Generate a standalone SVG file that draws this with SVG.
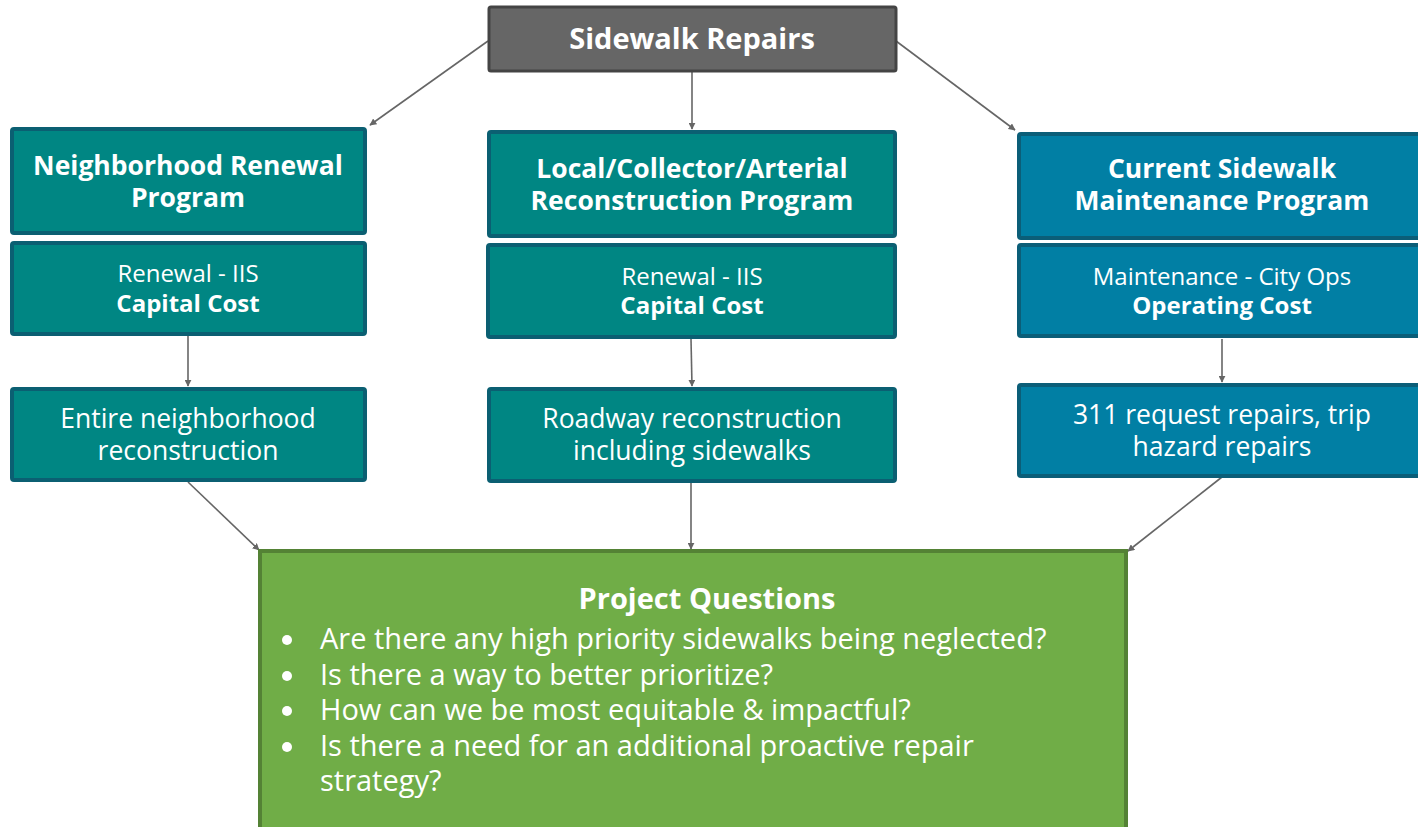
<svg xmlns="http://www.w3.org/2000/svg" width="1418" height="827" viewBox="0 0 1418 827">
<style>
text{font-family:"Open Sans","Noto Sans","Liberation Sans",sans-serif;fill:#fff;text-anchor:middle}
.b{font-weight:bold}
.t{font-size:26.5px}
.s{font-size:24px}
.m{font-size:26.5px}
.teal{fill:#008683;stroke:#0b5f72;stroke-width:4}
.blue{fill:#017fa4;stroke:#0b5e78;stroke-width:4}
.q{text-anchor:start;font-size:29px}
.c{stroke:#666;stroke-width:1.6;fill:none;marker-end:url(#a)}
</style>
<defs>
<marker id="a" viewBox="0 0 10 10" refX="9" refY="5" markerWidth="7" markerHeight="7" orient="auto" markerUnits="userSpaceOnUse"><path d="M0,0L10,5L0,10z" fill="#666"/></marker>
</defs>
<rect width="1418" height="827" fill="#fff"/>
<g id="connectors">
<line class="c" x1="488" y1="41" x2="370" y2="125"/>
<line class="c" x1="692" y1="71" x2="692" y2="129"/>
<line class="c" x1="896" y1="41" x2="1015" y2="130"/>
<line class="c" x1="188" y1="336" x2="188" y2="386"/>
<line class="c" x1="691" y1="339" x2="692" y2="386"/>
<line class="c" x1="1222" y1="339" x2="1222" y2="382"/>
<line class="c" x1="188" y1="482" x2="259" y2="550"/>
<line class="c" x1="691" y1="483" x2="691" y2="549"/>
<line class="c" x1="1222" y1="477" x2="1128" y2="551"/>
</g>
<g id="top">
<rect x="489" y="7" width="407" height="64" rx="2" fill="#666" stroke="#444" stroke-width="3"/>
<text class="b" x="692" y="49" font-size="29">Sidewalk Repairs</text>
</g>
<g id="nrp">
<rect class="teal" x="12" y="129" width="353" height="104" rx="2"/>
<text class="b t" x="188" y="175">Neighborhood Renewal</text>
<text class="b t" x="188" y="207">Program</text>
</g>
<g id="nrp-cost">
<rect class="teal" x="12" y="243" width="353" height="91" rx="2"/>
<text class="s" x="188" y="282">Renewal - IIS</text>
<text class="s b" x="188" y="312">Capital Cost</text>
</g>
<g id="nrp-desc">
<rect class="teal" x="12" y="389" width="353" height="91" rx="2"/>
<text class="m" x="188" y="428">Entire neighborhood</text>
<text class="m" x="188" y="460">reconstruction</text>
</g>
<g id="lca">
<rect class="teal" x="489" y="132" width="406" height="104" rx="2"/>
<text class="b t" x="692" y="178">Local/Collector/Arterial</text>
<text class="b t" x="692" y="210">Reconstruction Program</text>
</g>
<g id="lca-cost">
<rect class="teal" x="488" y="245" width="407" height="92" rx="2"/>
<text class="s" x="692" y="285">Renewal - IIS</text>
<text class="s b" x="692" y="314">Capital Cost</text>
</g>
<g id="lca-desc">
<rect class="teal" x="489" y="389" width="406" height="92" rx="2"/>
<text class="m" x="692" y="428">Roadway reconstruction</text>
<text class="m" x="692" y="460">including sidewalks</text>
</g>
<g id="csm">
<rect class="blue" x="1019" y="134" width="410" height="104" rx="2"/>
<text class="b t" x="1222" y="178">Current Sidewalk</text>
<text class="b t" x="1222" y="210">Maintenance Program</text>
</g>
<g id="csm-cost">
<rect class="blue" x="1019" y="245" width="410" height="91" rx="2"/>
<text class="s" x="1222" y="285">Maintenance - City Ops</text>
<text class="s b" x="1222" y="314">Operating Cost</text>
</g>
<g id="csm-desc">
<rect class="blue" x="1019" y="385" width="410" height="91" rx="2"/>
<text class="m" x="1222" y="424">311 request repairs, trip</text>
<text class="m" x="1222" y="456">hazard repairs</text>
</g>
<g id="questions">
<rect x="260" y="551" width="866" height="290" fill="#70ad47" stroke="#548235" stroke-width="4"/>
<text class="b" x="707" y="609" font-size="29">Project Questions</text>
<circle cx="287" cy="640" r="5" fill="#fff"/>
<circle cx="287" cy="676" r="5" fill="#fff"/>
<circle cx="287" cy="711" r="5" fill="#fff"/>
<circle cx="287" cy="747" r="5" fill="#fff"/>
<text class="q" x="320" y="649">Are there any high priority sidewalks being neglected?</text>
<text class="q" x="320" y="685">Is there a way to better prioritize?</text>
<text class="q" x="320" y="720">How can we be most equitable &amp; impactful?</text>
<text class="q" x="320" y="756">Is there a need for an additional proactive repair</text>
<text class="q" x="320" y="791">strategy?</text>
</g>
</svg>
